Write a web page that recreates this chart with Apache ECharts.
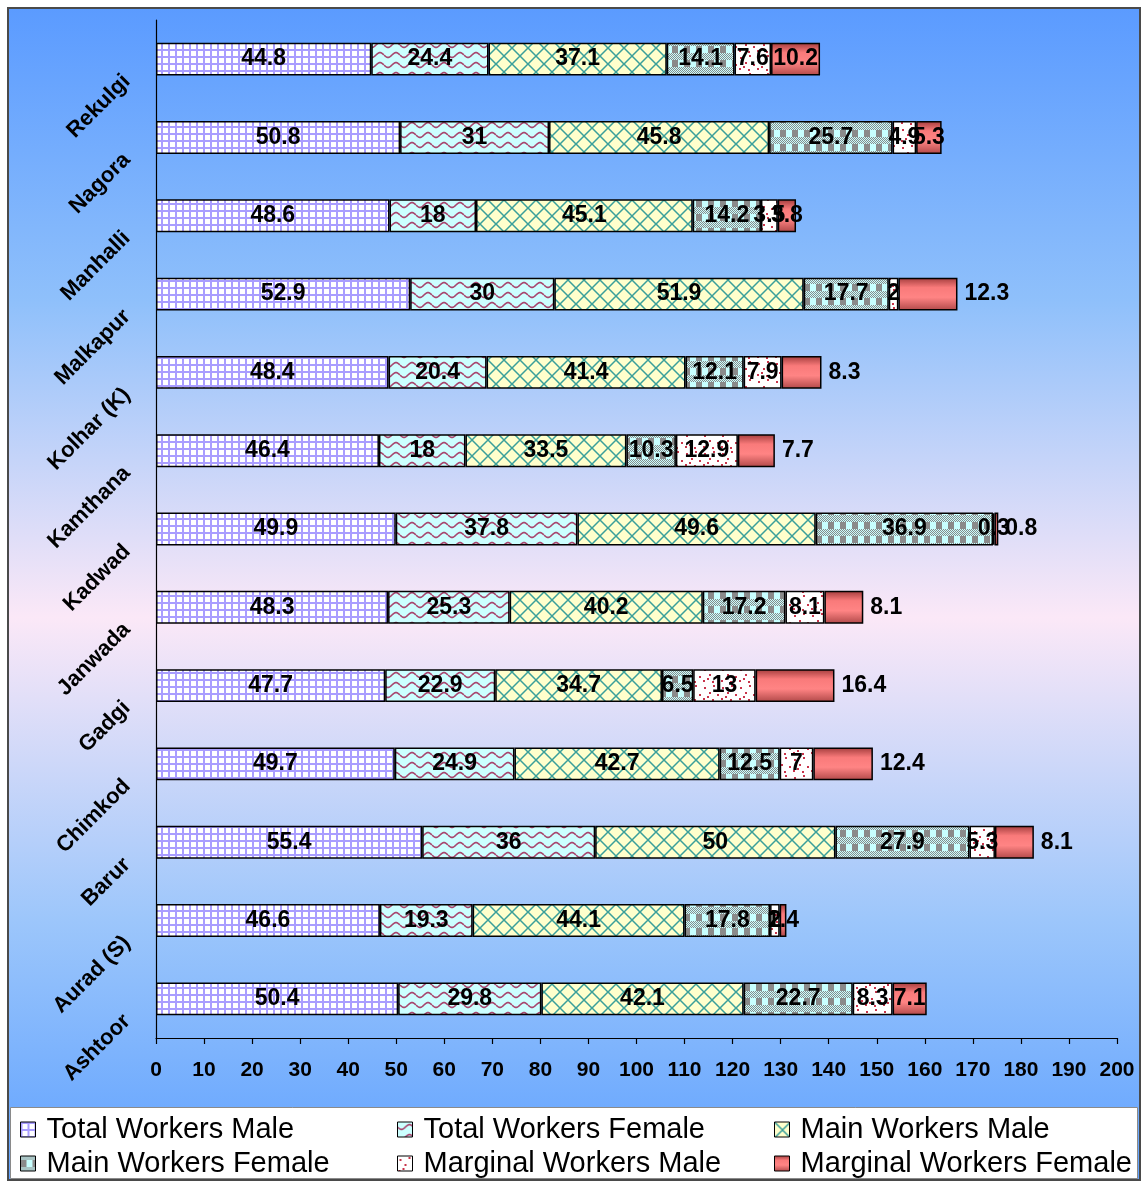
<!DOCTYPE html>
<html>
<head>
<meta charset="utf-8">
<script src="https://cdn.jsdelivr.net/npm/echarts@6/dist/echarts.min.js"></script>
<style>
  html, body { margin: 0; padding: 0; width: 1144px; height: 1183px; overflow: hidden; background: #ffffff; }
  #frame {
    position: absolute; left: 7px; top: 7px; width: 1130px; height: 1170px;
    border: 2px solid #4a4a4a;
    background: linear-gradient(to bottom, #5b9bff 0%, #8fc0fb 25%, #fbe8f7 52%, #9cc6fb 78%, #5fa1ff 100%);
  }
  #chart { position: absolute; left: 0; top: 0; width: 1144px; height: 1183px; }
</style>
</head>
<body>
<div id="frame"></div>
<div id="chart"></div>
<script>
// Villages, listed bottom to top as drawn on the category axis
const villages = ['Ashtoor', 'Aurad (S)', 'Barur', 'Chimkod', 'Gadgi', 'Janwada', 'Kadwad',
                  'Kamthana', 'Kolhar (K)', 'Malkapur', 'Manhalli', 'Nagora', 'Rekulgi'];

const totalWorkersMale     = [50.4, 46.6, 55.4, 49.7, 47.7, 48.3, 49.9, 46.4, 48.4, 52.9, 48.6, 50.8, 44.8];
const totalWorkersFemale   = [29.8, 19.3, 36, 24.9, 22.9, 25.3, 37.8, 18, 20.4, 30, 18, 31, 24.4];
const mainWorkersMale      = [42.1, 44.1, 50, 42.7, 34.7, 40.2, 49.6, 33.5, 41.4, 51.9, 45.1, 45.8, 37.1];
const mainWorkersFemale    = [22.7, 17.8, 27.9, 12.5, 6.5, 17.2, 36.9, 10.3, 12.1, 17.7, 14.2, 25.7, 14.1];
const marginalWorkersMale  = [8.3, 2, 5.3, 7, 13, 8.1, 0.3, 12.9, 7.9, 2, 3.5, 4.9, 7.6];
const marginalWorkersFemale= [7.1, 1.4, 8.1, 12.4, 16.4, 8.1, 0.8, 7.7, 8.3, 12.3, 3.8, 5.3, 10.2];

// Villages whose last label sits just past the end of the bar
const labelAfterBar = ['Barur', 'Chimkod', 'Gadgi', 'Janwada', 'Kadwad', 'Kamthana', 'Kolhar (K)', 'Malkapur'];

const seriesNames = ['Total Workers Male', 'Total Workers Female', 'Main Workers Male',
                     'Main Workers Female', 'Marginal Workers Male', 'Marginal Workers Female'];

// ---- fill patterns ----
function tile(w, h, draw) {
  const c = document.createElement('canvas');
  c.width = w; c.height = h;
  draw(c.getContext('2d'), w, h);
  return { image: c, repeat: 'repeat' };
}

const gridFill = tile(7, 7, (g, w, h) => {
  g.fillStyle = '#ffffff'; g.fillRect(0, 0, w, h);
  g.fillStyle = '#a99dff';
  g.fillRect(0, 0, w, 2); g.fillRect(0, 0, 2, h);
});

const waveFill = tile(16, 10, (g, w, h) => {
  g.fillStyle = '#ccffff'; g.fillRect(0, 0, w, h);
  g.strokeStyle = '#a8466e'; g.lineWidth = 1.6;
  g.beginPath();
  for (let x = 0; x <= w; x += 0.5) {
    const y = 5 + 2.4 * Math.sin((x / w) * Math.PI * 2);
    if (x === 0) g.moveTo(x, y); else g.lineTo(x, y);
  }
  g.stroke();
});

const latticeFill = tile(16, 16, (g, w, h) => {
  g.fillStyle = '#ffffcc'; g.fillRect(0, 0, w, h);
  g.strokeStyle = '#3a9f9a'; g.lineWidth = 1.5;
  g.beginPath();
  g.moveTo(-1, -1); g.lineTo(w + 1, h + 1);
  g.moveTo(w + 1, -1); g.lineTo(-1, h + 1);
  g.stroke();
});

const blockFill = tile(12, 14, (g, w, h) => {
  g.fillStyle = '#c8ffff'; g.fillRect(0, 0, w, h);
  g.fillStyle = '#8a8a8a';
  for (let y = 0; y < h; y++) {
    for (let x = 0; x < w; x++) {
      const band = (y < 4 || y >= 11);
      if (band && (x + y) % 2 === 0) g.fillRect(x, y, 1, 1);
    }
  }
  g.fillRect(0, 4, 6, 7);
});

const dotFill = tile(18, 18, (g, w, h) => {
  g.fillStyle = '#ffffff'; g.fillRect(0, 0, w, h);
  g.fillStyle = '#c8344a';
  [[2, 3], [11, 1], [7, 8], [15, 10], [1, 14], [10, 15], [5, 12]].forEach(p => g.fillRect(p[0], p[1], 2, 2));
});

const redFill = new echarts.graphic.LinearGradient(0, 0, 0, 1, [
  { offset: 0, color: '#a23c3c' },
  { offset: 0.3, color: '#f97a7a' },
  { offset: 0.6, color: '#ff8484' },
  { offset: 1, color: '#b04848' }
]);

const fills = [gridFill, waveFill, latticeFill, blockFill, dotFill, redFill];
const values = [totalWorkersMale, totalWorkersFemale, mainWorkersMale,
                mainWorkersFemale, marginalWorkersMale, marginalWorkersFemale];

const fontFamily = 'Arial, "Liberation Sans", sans-serif';
const labelFont = { fontFamily: fontFamily, fontWeight: 'bold', fontSize: 23, color: '#000000' };

const series = values.map((vals, si) => ({
  name: seriesNames[si],
  type: 'bar',
  stack: 'workers',
  barWidth: '42%',
  itemStyle: { color: fills[si], borderColor: '#000000', borderWidth: 1.5 },
  label: Object.assign({ show: true, position: 'inside' }, labelFont),
  data: vals.map((v, i) => {
    if (si === 5 && labelAfterBar.indexOf(villages[i]) >= 0) {
      return { value: v, label: { position: 'right', distance: 7 } };
    }
    return v;
  })
}));

// One legend block per entry, laid out as a 3 x 2 table
const legendCols = [15, 392, 769];
const legendRows = [1110, 1144];
const legends = seriesNames.map((name, i) => ({
  data: [name],
  left: legendCols[i % 3],
  top: legendRows[Math.floor(i / 3)],
  itemWidth: 15,
  itemHeight: 15,
  icon: 'rect',
  selectedMode: false,
  itemStyle: { borderColor: '#000000', borderWidth: 1 },
  textStyle: { fontFamily: fontFamily, fontSize: 29, color: '#000000', padding: [0, 0, 0, 6] }
}));

const chart = echarts.init(document.getElementById('chart'), null, { renderer: 'canvas' });
chart.setOption({
  backgroundColor: 'transparent',
  animation: false,
  graphic: [{
    type: 'rect',
    left: 10, top: 1107,
    shape: { width: 1127, height: 71 },
    style: { fill: '#ffffff', stroke: '#8a8a8a', lineWidth: 1 },
    z: -1
  }],
  legend: legends,
  grid: { left: 156, right: 27, top: 20, bottom: 145, containLabel: false },
  xAxis: {
    type: 'value',
    min: 0, max: 200, interval: 10,
    splitLine: { show: false },
    axisLine: { show: true, lineStyle: { color: '#000000', width: 1.2 } },
    axisTick: { show: true, length: 6, lineStyle: { color: '#000000', width: 1.2 } },
    axisLabel: { margin: 22, fontFamily: fontFamily, fontWeight: 'bold', fontSize: 21, color: '#000000' }
  },
  yAxis: {
    type: 'category',
    data: villages,
    axisLine: { show: true, lineStyle: { color: '#000000', width: 1.2 } },
    axisTick: { show: false },
    axisLabel: {
      rotate: 45,
      margin: 10,
      padding: [0, 27, 0, 0],
      fontFamily: fontFamily,
      fontWeight: 'bold',
      fontSize: 22,
      color: '#000000'
    }
  },
  series: series
});
</script>
</body>
</html>
